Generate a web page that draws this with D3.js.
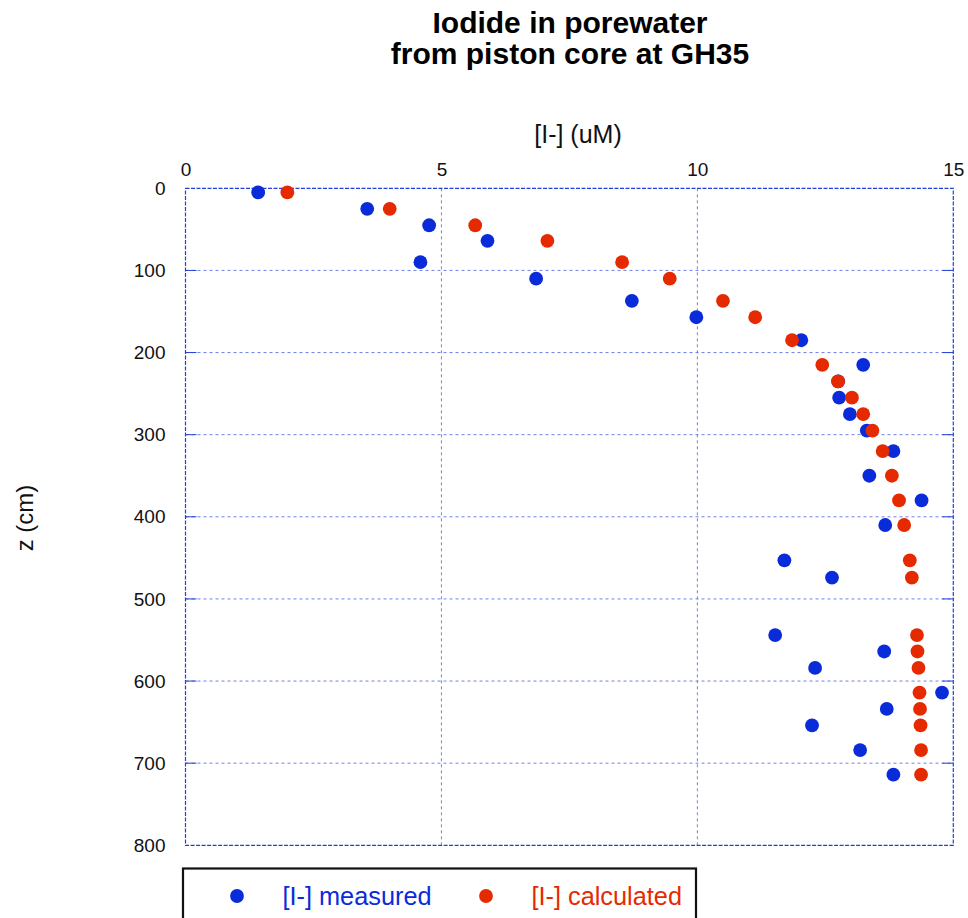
<!DOCTYPE html>
<html>
<head>
<meta charset="utf-8">
<script src="https://cdn.jsdelivr.net/npm/d3@7"></script>
<style>
  html, body { margin: 0; padding: 0; background: #fff; }
  svg { display: block; font-family: "Liberation Sans", Arial, sans-serif; }
</style>
</head>
<body>
<svg id="chart" width="968" height="918"></svg>
<script>
// Depth of each porewater sample (cm)
const depths = [5, 25, 45, 64, 90, 110, 137, 157, 185, 215, 235, 255, 275, 295,
                320, 350, 380, 410, 453, 474, 544, 564, 584, 614, 634, 654, 684, 714];
// Measured iodide concentration (uM)
const measured = [1.42, 3.55, 4.76, 5.90, 4.59, 6.85, 8.72, 9.98, 12.03, 13.24, 12.75, 12.77,
                  12.98, 13.31, 13.83, 13.36, 14.38, 13.67, 11.70, 12.63, 11.52, 13.65, 12.30,
                  14.78, 13.70, 12.24, 13.18, 13.83];
// Calculated iodide concentration (uM)
const calculated = [1.99, 3.99, 5.66, 7.07, 8.53, 9.46, 10.50, 11.13, 11.85, 12.44, 12.75, 13.02,
                    13.24, 13.42, 13.62, 13.80, 13.94, 14.04, 14.15, 14.19, 14.29, 14.30, 14.32,
                    14.34, 14.35, 14.36, 14.37, 14.37];
const xTicks = [0, 5, 10, 15];
const yTicks = [0, 100, 200, 300, 400, 500, 600, 700, 800];
const seriesNames = ["[I-] measured", "[I-] calculated"];
const seriesColors = ["#0a2bd9", "#e62a00"];

const svg = d3.select("#chart");
const plotLeft = 185.5, plotRight = 953.3, plotTop = 188.3, plotBottom = 845.3;

const x = d3.scaleLinear().domain([0, 15]).range([plotLeft, plotRight]);
const y = d3.scaleLinear().domain([0, 800]).range([plotTop, plotBottom]);

const gridColor = "#6f82ea";
const frameColor = "#2340d6";

// Grid lines
const grid = svg.append("g");
grid.selectAll("line.gx").data(xTicks.slice(1, -1)).join("line")
  .attr("x1", d => x(d)).attr("x2", d => x(d))
  .attr("y1", plotTop).attr("y2", plotBottom)
  .attr("stroke", gridColor).attr("stroke-width", 1).attr("stroke-dasharray", "3,3");
grid.selectAll("line.gy").data(yTicks.slice(1, -1)).join("line")
  .attr("x1", plotLeft).attr("x2", plotRight)
  .attr("y1", d => y(d)).attr("y2", d => y(d))
  .attr("stroke", gridColor).attr("stroke-width", 1).attr("stroke-dasharray", "3,3");

// Inner tick marks on left and right edges
svg.append("g").selectAll("line").data(yTicks.slice(1, -1)).join("line")
  .attr("x1", plotLeft).attr("x2", plotLeft + 11)
  .attr("y1", d => y(d)).attr("y2", d => y(d))
  .attr("stroke", frameColor).attr("stroke-width", 1);
svg.append("g").selectAll("line").data(yTicks.slice(1, -1)).join("line")
  .attr("x1", plotRight - 11).attr("x2", plotRight)
  .attr("y1", d => y(d)).attr("y2", d => y(d))
  .attr("stroke", frameColor).attr("stroke-width", 1);

// Plot frame
svg.append("rect")
  .attr("x", plotLeft).attr("y", plotTop)
  .attr("width", plotRight - plotLeft).attr("height", plotBottom - plotTop)
  .attr("fill", "none").attr("stroke", frameColor)
  .attr("stroke-width", 1.2).attr("stroke-dasharray", "4,1.5");

// X tick labels (top)
const xAxis = d3.axisTop(x).tickValues(xTicks).tickSize(0).tickPadding(0).tickFormat(d3.format("d"));
const gx = svg.append("g").attr("transform", `translate(0,${plotTop - 12})`).call(xAxis);
gx.select(".domain").remove();
gx.selectAll("text").attr("font-size", 19).attr("fill", "#111")
  .attr("font-family", "'Liberation Sans', Arial, sans-serif").attr("dy", 0);

// Y tick labels (left)
const yAxis = d3.axisLeft(y).tickValues(yTicks).tickSize(0).tickPadding(0).tickFormat(d3.format("d"));
const gy = svg.append("g").attr("transform", `translate(${plotLeft - 20},0)`).call(yAxis);
gy.select(".domain").remove();
gy.selectAll("text").attr("font-size", 19).attr("fill", "#111")
  .attr("font-family", "'Liberation Sans', Arial, sans-serif");

// Points
const rows = depths.map((z, i) => ({ z, m: measured[i], c: calculated[i] }));
svg.append("g").selectAll("circle").data(rows).join("circle")
  .attr("cx", d => x(d.m)).attr("cy", d => y(d.z)).attr("r", 6.9)
  .attr("fill", seriesColors[0]);
svg.append("g").selectAll("circle").data(rows).join("circle")
  .attr("cx", d => x(d.c)).attr("cy", d => y(d.z)).attr("r", 6.9)
  .attr("fill", seriesColors[1]);

// Titles
svg.append("text").attr("x", 570).attr("y", 33).attr("text-anchor", "middle")
  .attr("font-size", 30).attr("font-weight", "bold").attr("fill", "#000")
  .text("Iodide in porewater");
svg.append("text").attr("x", 570).attr("y", 64).attr("text-anchor", "middle")
  .attr("font-size", 30).attr("font-weight", "bold").attr("fill", "#000")
  .text("from piston core at GH35");
svg.append("text").attr("x", 578).attr("y", 143).attr("text-anchor", "middle")
  .attr("font-size", 25).attr("fill", "#111").text("[I-] (uM)");
svg.append("text").attr("transform", "translate(33,518) rotate(-90)")
  .attr("text-anchor", "middle").attr("font-size", 24).attr("fill", "#111").text("z (cm)");

// Legend
const legend = svg.append("g");
legend.append("rect").attr("x", 183).attr("y", 868.5).attr("width", 513).attr("height", 80)
  .attr("fill", "#fff").attr("stroke", "#111").attr("stroke-width", 2.2);
const legendX = [237, 486];
seriesNames.forEach((name, i) => {
  legend.append("circle").attr("cx", legendX[i]).attr("cy", 896).attr("r", 6.9).attr("fill", seriesColors[i]);
  legend.append("text").attr("x", legendX[i] + 45.5).attr("y", 905)
    .attr("font-size", 25.3).attr("fill", seriesColors[i]).text(name);
});
</script>
</body>
</html>
